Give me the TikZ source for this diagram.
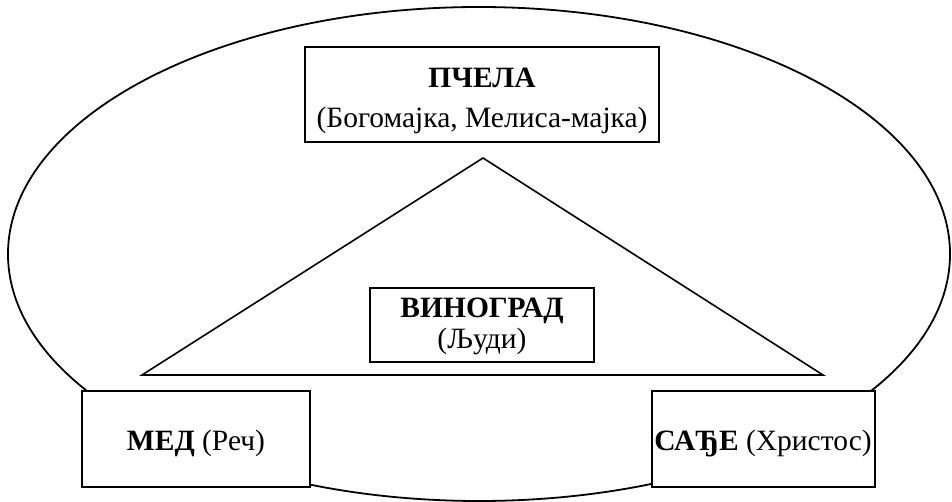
\documentclass[tikz,border=0pt]{standalone}
\usepackage{fontspec}
\setmainfont{Liberation Serif}
\tikzset{
  box/.style={draw, line width=1.8pt, fill=white, inner sep=0pt},
  lbl/.style={inner sep=0pt, anchor=base, font=\fontsize{29.5}{36}\selectfont},
}
\begin{document}
\begin{tikzpicture}[x=1pt, y=-1pt]
\useasboundingbox (0,0) rectangle (952,502);
% outer ellipse
\draw[line width=1.8pt] (479,254) ellipse [x radius=471, y radius=247];
% triangle
\coordinate (apex) at (483,158);
\coordinate (baseL) at (142,375);
\coordinate (baseR) at (823,375);
\draw[line width=1.6pt, line join=miter] (apex) -- (baseL) -- (baseR) -- cycle;
% boxes
\node[box, minimum width=354pt, minimum height=95pt] (pcela) at (482,94.5) {};
\node[box, minimum width=224pt, minimum height=74pt] (vinograd) at (482,325) {};
\node[box, minimum width=228pt, minimum height=96pt] (med) at (196,439) {};
\node[box, minimum width=223pt, minimum height=96pt] (sace) at (763.5,439) {};
% texts
\node[lbl] (pcelaT) at (482,88) {\textbf{ПЧЕЛА}};
\node[lbl] (pcelaS) at (482,128) {(Богомајка, Мелиса-мајка)};
\node[lbl] (vinogradT) at (482,317) {\textbf{ВИНОГРАД}};
\node[lbl] (vinogradS) at (482,348) {(Људи)};
\node[lbl] (medT) at (196,450) {\textbf{МЕД} (Реч)};
\node[lbl] (saceT) at (763,450) {\textbf{САЂЕ} (Христос)};
\end{tikzpicture}
\end{document}
